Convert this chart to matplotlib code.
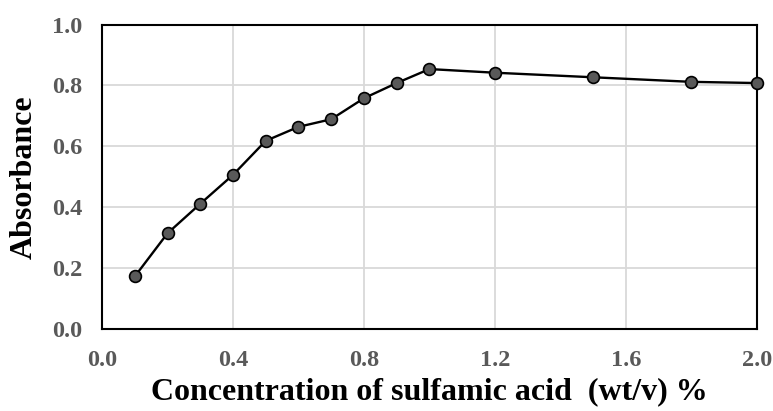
import matplotlib
matplotlib.use("Agg")
import matplotlib.pyplot as plt

conc = [0.1, 0.2, 0.3, 0.4, 0.5, 0.6, 0.7, 0.8, 0.9, 1.0, 1.2, 1.5, 1.8, 2.0]
absorbance = [0.172, 0.314, 0.411, 0.506, 0.618, 0.664, 0.689, 0.758, 0.808,
              0.854, 0.842, 0.827, 0.812, 0.808]
x_ticks = [0.0, 0.4, 0.8, 1.2, 1.6, 2.0]
y_ticks = [0.0, 0.2, 0.4, 0.6, 0.8, 1.0]

plt.rcParams['font.family'] = ['Liberation Serif', 'DejaVu Serif']

fig = plt.figure(figsize=(7.73, 4.11), dpi=100)
ax = fig.add_axes([0.132, 0.200, 0.847, 0.740])

ax.plot(conc, absorbance, color='black', lw=1.7, marker='o', markersize=8.5,
        markerfacecolor='#595959', markeredgecolor='black', markeredgewidth=1.2,
        clip_on=False, zorder=3)

ax.set_xlim(0, 2.0)
ax.set_ylim(0, 1.0)
ax.set_xticks(x_ticks)
ax.set_yticks(y_ticks)
ax.set_xticklabels([f"{v:.1f}" for v in x_ticks])
ax.set_yticklabels([f"{v:.1f}" for v in y_ticks])
ax.grid(True, color='#d9d9d9', lw=1.3, zorder=0)
ax.set_axisbelow(True)
ax.tick_params(axis='x', length=0, pad=15, labelsize=17.5, labelcolor='#595959')
ax.tick_params(axis='y', length=0, pad=14, labelsize=17.5, labelcolor='#595959')
for lab in ax.get_xticklabels() + ax.get_yticklabels():
    lab.set_fontweight('bold')
for s in ax.spines.values():
    s.set_linewidth(1.5)
    s.set_color('black')

ax.set_xlabel('Concentration of sulfamic acid  (wt/v) %', fontsize=23,
              fontweight='bold', labelpad=5)
ax.set_ylabel('Absorbance', fontsize=23, fontweight='bold', labelpad=10)

fig.savefig('out.png', dpi=100)
